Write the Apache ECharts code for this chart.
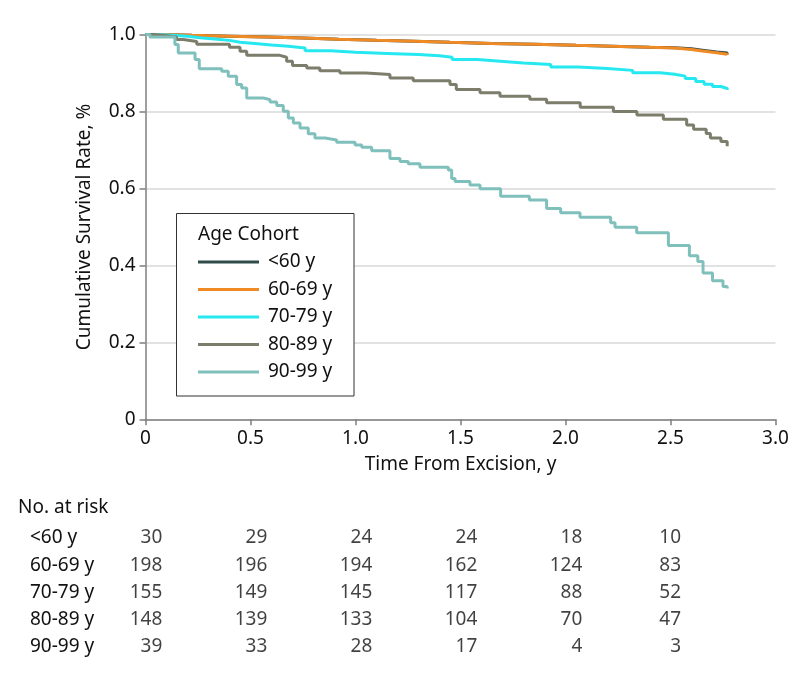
<!DOCTYPE html>
<html>
<head>
<meta charset="utf-8">
<script src="https://cdn.jsdelivr.net/npm/echarts@6/dist/echarts.min.js"></script>
<style>
html,body{margin:0;padding:0;background:#fff;}
#chart{width:798px;height:675px;}
</style>
</head>
<body>
<div id="chart"></div>
<script>
// ---- Data ----
const cohorts = ['<60 y', '60-69 y', '70-79 y', '80-89 y', '90-99 y'];

// Kaplan-Meier curves: [time (y), cumulative survival]
const surv_lt60 = [[0,1],[0.08,0.998],[0.22,0.996],[0.40,0.994],[0.58,0.991],[0.75,0.988],[0.92,0.985],[1.10,0.983],[1.28,0.980],[1.45,0.977],[1.65,0.975],[1.85,0.972],[2.05,0.970],[2.22,0.967],[2.40,0.966],[2.52,0.963],[2.60,0.959],[2.66,0.955],[2.72,0.952],[2.77,0.950]];
const surv_6069 = [[0,1],[0.08,0.998],[0.22,0.996],[0.40,0.994],[0.58,0.991],[0.75,0.988],[0.92,0.985],[1.10,0.983],[1.28,0.980],[1.45,0.977],[1.65,0.975],[1.85,0.972],[2.05,0.970],[2.22,0.967],[2.40,0.965],[2.52,0.961],[2.60,0.957],[2.66,0.953],[2.72,0.949],[2.77,0.947]];
const surv_7079 = [[0,1],[0.05,0.998],[0.13,0.996],[0.20,0.992],[0.26,0.988],[0.34,0.985],[0.40,0.980],[0.45,0.977],[0.52,0.973],[0.60,0.970],[0.68,0.965],[0.76,0.958],[0.88,0.954],[1.00,0.951],[1.15,0.948],[1.30,0.945],[1.40,0.941],[1.46,0.935],[1.58,0.931],[1.69,0.926],[1.80,0.922],[1.93,0.916],[2.06,0.912],[2.20,0.907],[2.32,0.901],[2.45,0.897],[2.52,0.892],[2.57,0.886],[2.62,0.878],[2.66,0.871],[2.70,0.865],[2.74,0.860],[2.77,0.856]];
const surv_8089 = [[0,1],[0.04,0.997],[0.10,0.994],[0.148,0.987],[0.18,0.982],[0.244,0.975],[0.40,0.967],[0.45,0.957],[0.482,0.946],[0.64,0.941],[0.672,0.931],[0.70,0.920],[0.768,0.913],[0.83,0.906],[0.926,0.900],[1.05,0.896],[1.164,0.887],[1.275,0.880],[1.45,0.870],[1.48,0.857],[1.593,0.849],[1.688,0.840],[1.83,0.832],[1.91,0.823],[2.07,0.811],[2.228,0.800],[2.34,0.791],[2.466,0.780],[2.577,0.765],[2.61,0.754],[2.67,0.743],[2.69,0.731],[2.74,0.722],[2.77,0.710]];
const surv_9099 = [[0,1],[0.021,0.994],[0.140,0.974],[0.156,0.952],[0.236,0.935],[0.256,0.911],[0.363,0.905],[0.394,0.892],[0.434,0.870],[0.458,0.861],[0.482,0.835],[0.561,0.831],[0.593,0.825],[0.625,0.816],[0.656,0.801],[0.680,0.783],[0.704,0.770],[0.736,0.757],[0.775,0.742],[0.807,0.731],[0.855,0.726],[0.910,0.720],[0.998,0.713],[1.030,0.707],[1.077,0.698],[1.164,0.678],[1.212,0.670],[1.251,0.664],[1.307,0.655],[1.442,0.648],[1.458,0.626],[1.474,0.618],[1.545,0.609],[1.593,0.599],[1.691,0.580],[1.828,0.570],[1.910,0.548],[1.977,0.537],[2.069,0.525],[2.215,0.511],[2.236,0.499],[2.339,0.485],[2.49,0.452],[2.59,0.425],[2.63,0.410],[2.655,0.380],[2.70,0.360],[2.75,0.345],[2.77,0.340]];

// Number at risk table
const riskTimes = [0, 0.5, 1.0, 1.5, 2.0, 2.5];
const risk_lt60 = [30, 29, 24, 24, 18, 10];
const risk_6069 = [198, 196, 194, 162, 124, 83];
const risk_7079 = [155, 149, 145, 117, 88, 52];
const risk_8089 = [148, 139, 133, 104, 70, 47];
const risk_9099 = [39, 33, 28, 17, 4, 3];

// Axis ticks
const xTicks = [0, 0.5, 1.0, 1.5, 2.0, 2.5, 3.0];
const yTicks = [0, 0.2, 0.4, 0.6, 0.8, 1.0];

// ---- Styling ----
const colors = ['#2f4b4b', '#f08a24', '#26e8f0', '#7d7d6b', '#80c0bc'];
const FONT = 'Noto Sans';
const FS = 19;
const TXT = '#111';
const AXIS = '#7f7f7f';

const survSets = [surv_lt60, surv_6069, surv_7079, surv_8089, surv_9099];
const riskSets = [risk_lt60, risk_6069, risk_7079, risk_8089, risk_9099];

const fmt = v => (v === 0 ? '0' : v.toFixed(1));

const lineSeries = cohorts.map((name, i) => ({
  name: name,
  type: 'line',
  step: 'end',
  xAxisIndex: 0,
  yAxisIndex: 0,
  showSymbol: false,
  symbol: 'none',
  data: survSets[i],
  lineStyle: { color: colors[i], width: 3 },
  itemStyle: { color: colors[i] },
  z: 2,
  animation: false
}));

const tableData = [];
riskSets.forEach((arr, r) => {
  arr.forEach((n, c) => {
    const item = { value: [riskTimes[c], r, n] };
    if (c === riskTimes.length - 1) item.label = { offset: [10.5, 0] };
    tableData.push(item);
  });
});

const tableSeries = {
  type: 'scatter',
  xAxisIndex: 1,
  yAxisIndex: 1,
  symbolSize: 1,
  itemStyle: { color: 'rgba(0,0,0,0)' },
  data: tableData,
  silent: true,
  animation: false,
  label: {
    show: true,
    position: 'inside',
    align: 'right',
    verticalAlign: 'middle',
    offset: [16.8, 0],
    fontFamily: FONT,
    fontSize: FS,
    color: TXT,
    formatter: p => String(p.value[2])
  }
};

const chart = echarts.init(document.getElementById('chart'), null, { renderer: 'canvas' });
chart.setOption({
  backgroundColor: '#fff',
  animation: false,
  textStyle: { fontFamily: FONT },
  title: [
    { text: 'Age Cohort', left: 198, top: 222, padding: 0, z: 7,
      textStyle: { fontFamily: FONT, fontSize: FS, fontWeight: 'normal', color: TXT, lineHeight: 26 } },
    { text: 'No. at risk', left: 18, top: 495, padding: 0,
      textStyle: { fontFamily: FONT, fontSize: FS, fontWeight: 'normal', color: TXT, lineHeight: 26 } }
  ],
  legend: {
    data: cohorts,
    orient: 'vertical',
    left: 198,
    top: 248.25,
    padding: 0,
    itemGap: 0,
    itemWidth: 61,
    itemHeight: 3,
    icon: 'rect',
    z: 6,
    selectedMode: false,
    textStyle: { fontFamily: FONT, fontSize: FS, color: TXT, lineHeight: 27.5, padding: [0, 0, 0, 4] }
  },
  graphic: [{
    type: 'rect',
    z: 3,
    shape: { x: 176.5, y: 213.5, width: 177.5, height: 182.5 },
    style: { fill: '#fff', stroke: '#333', lineWidth: 1 }
  }],
  grid: [
    { left: 145.5, right: 22.5, top: 34.6, bottom: 255.7, containLabel: false },
    { left: 145.5, right: 22.5, top: 524.4, bottom: 14.4, containLabel: false }
  ],
  xAxis: [
    {
      type: 'value', gridIndex: 0, min: 0, max: 3, interval: 0.5,
      name: 'Time From Excision, y', nameLocation: 'middle', nameGap: 36,
      nameTextStyle: { fontFamily: FONT, fontSize: FS, color: TXT },
      axisLine: { show: true, onZero: false, lineStyle: { color: AXIS, width: 1.5 } },
      axisTick: { show: true, length: 6, lineStyle: { color: AXIS, width: 1.5 } },
      axisLabel: { fontFamily: FONT, fontSize: FS, color: TXT, margin: 10,
        formatter: v => (xTicks.indexOf(v) >= 0 ? fmt(v) : '') },
      splitLine: { show: false }
    },
    {
      type: 'value', gridIndex: 1, min: 0, max: 3, interval: 0.5, show: false
    }
  ],
  yAxis: [
    {
      type: 'value', gridIndex: 0, min: 0, max: 1, interval: 0.2,
      name: 'Cumulative Survival Rate, %', nameLocation: 'middle', nameGap: 51,
      nameTextStyle: { fontFamily: FONT, fontSize: FS, color: TXT },
      axisLine: { show: true, lineStyle: { color: AXIS, width: 1.5 } },
      axisTick: { show: true, length: 6, lineStyle: { color: AXIS, width: 1.5 } },
      axisLabel: { fontFamily: FONT, fontSize: FS, color: TXT, margin: 10,
        formatter: v => (yTicks.some(t => Math.abs(t - v) < 1e-9) ? fmt(v) : '') },
      splitLine: { show: true, lineStyle: { color: '#d9d9d9', width: 1.5 } }
    },
    {
      type: 'category', gridIndex: 1, data: cohorts, inverse: true,
      axisLine: { show: false }, axisTick: { show: false }, splitLine: { show: false },
      axisLabel: { show: true, align: 'left', margin: 115.5, fontFamily: FONT, fontSize: FS, color: TXT }
    }
  ],
  series: lineSeries.concat([tableSeries])
});
</script>
</body>
</html>
